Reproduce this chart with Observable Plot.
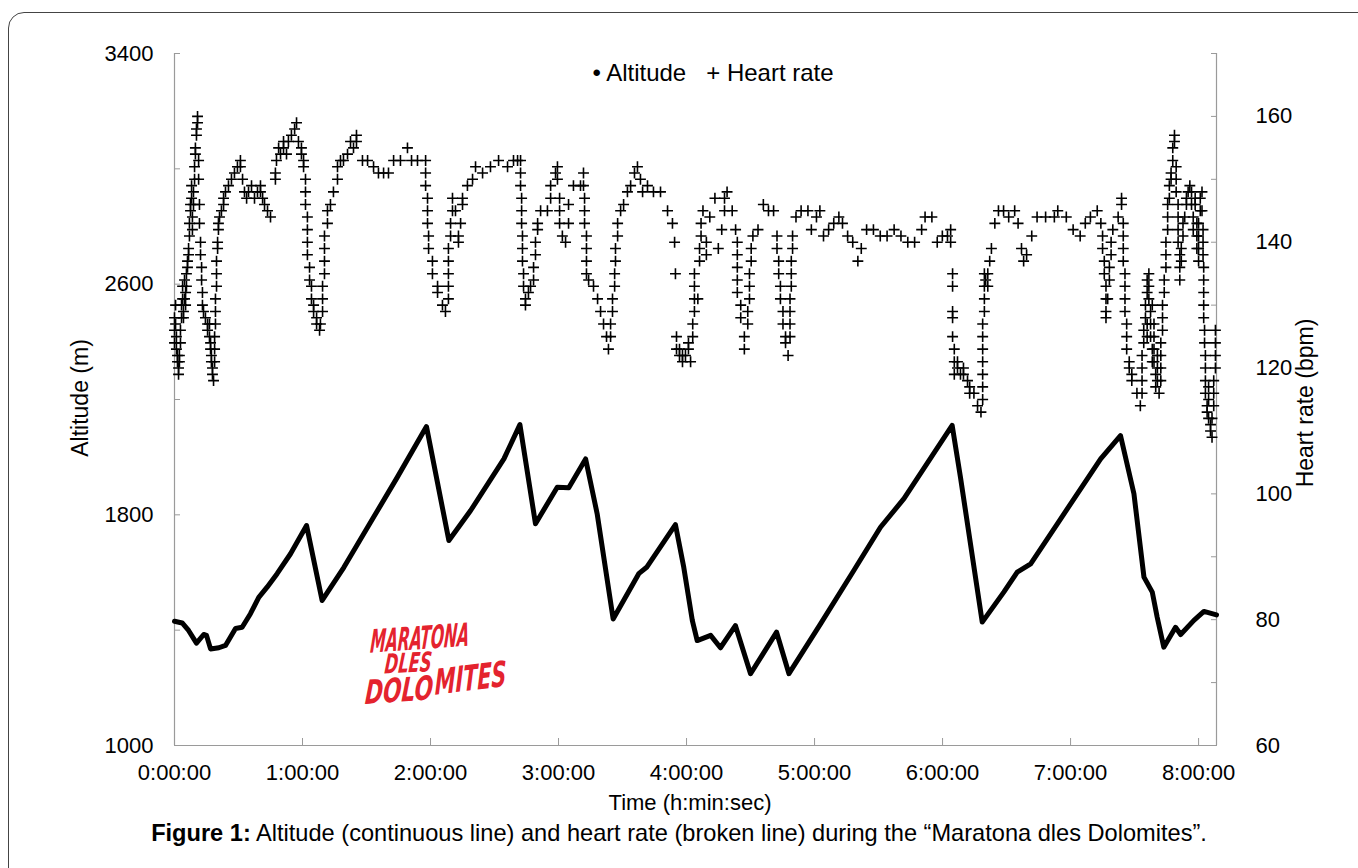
<!DOCTYPE html>
<html>
<head>
<meta charset="utf-8">
<script src="https://cdn.jsdelivr.net/npm/d3@7"></script>
<script src="https://cdn.jsdelivr.net/npm/@observablehq/plot@0.6"></script>
<style>
  html, body { margin: 0; padding: 0; background: #fff; }
  #wrap { position: relative; width: 1358px; height: 868px; overflow: hidden; font-family: "Liberation Sans", Arial, sans-serif; color: #000; }
  #frame { position: absolute; left: 8px; top: 12px; width: 1400px; height: 900px; border: 1px solid #444; border-radius: 16px; }
  #chart { position: absolute; left: 0; top: 0; }
  .lbl { position: absolute; white-space: pre; line-height: 1; }
</style>
</head>
<body>
<div id="wrap">
  <div id="frame"></div>
  <div id="chart"></div>
  <div class="lbl" id="legend" style="left:713px; top:61px; font-size:24px; transform:translateX(-50%);">• Altitude   + Heart rate</div>
  <div class="lbl" style="left:80px; top:398px; font-size:23px; transform:translate(-50%,-50%) rotate(-90deg);">Altitude (m)</div>
  <div class="lbl" style="left:1305px; top:403px; font-size:23px; transform:translate(-50%,-50%) rotate(-90deg);">Heart rate (bpm)</div>
  <div class="lbl" style="left:690px; top:792px; font-size:22px; transform:translateX(-50%);">Time (h:min:sec)</div>
  <div class="lbl" style="left:679px; top:822px; font-size:23.6px; transform:translateX(-50%);"><b>Figure 1:</b> Altitude (continuous line) and heart rate (broken line) during the “Maratona dles Dolomites”.</div>
  <svg style="position:absolute; left:357px; top:605px; overflow:visible;" width="180" height="110">
    <g fill="#e4232e" font-family="'DejaVu Sans Condensed','DejaVu Sans',sans-serif" font-weight="bold" font-style="italic">
      <text x="18" y="44" font-size="32" textLength="99" lengthAdjust="spacingAndGlyphs" transform="rotate(-4 65 33) skewX(-8)">MARATONA</text>
      <text x="36" y="67" font-size="27" textLength="47" lengthAdjust="spacingAndGlyphs" transform="rotate(-3 55 58) skewX(-8)">DLES</text>
      <text x="20" y="96" font-size="33" textLength="68" lengthAdjust="spacingAndGlyphs" transform="rotate(-4 50 83) skewX(-8)">DOLO</text>
      <text x="88" y="85" font-size="35" textLength="72" lengthAdjust="spacingAndGlyphs" transform="rotate(-7 115 73) skewX(-8)">MITES</text>
    </g>
  </svg>
</div>
<script>
// ---------- data ----------
// Altitude: time in minutes from start, altitude in metres
const altTime = [0,3.6,6.6,10.3,13.7,15.0,16.9,20.8,23.9,28.6,31.7,35.6,39.5,43.4,48.1,54.4,61.9,69.2,79.4,91.9,104.4,118.1,128.6,138.8,154.4,161.9,169.2,179.4,184.8,192.7,198.1,205.6,217.6,221.3,234.8,238.7,242.7,245.0,251.3,255.9,262.9,270.0,282.2,288.0,302.8,318.4,330.9,341.9,364.5,368.4,378.6,388.7,395.0,401.3,413.8,434.1,443.4,449.7,454.4,458.3,460.6,463.7,469.2,471.6,477.8,482.5,488.4];
const altValue = [1431,1425,1399,1355,1385,1382,1335,1339,1347,1406,1410,1457,1514,1549,1596,1665,1763,1503,1618,1774,1930,2106,1711,1815,1994,2113,1769,1896,1894,1994,1804,1439,1596,1618,1766,1618,1434,1364,1382,1339,1416,1249,1393,1249,1422,1607,1757,1856,2110,1930,1428,1532,1601,1630,1769,1994,2075,1873,1584,1532,1445,1341,1410,1385,1434,1465,1453];

// Heart rate: time in minutes, readings (bpm) visible at that time
const hrTime = [0,0.5,0.9,1.4,1.9,2.3,2.8,3.3,3.8,4.2,4.7,5.2,5.6,6.1,6.6,7.0,7.5,8.0,8.4,8.9,9.4,9.8,10.3,10.8,11.3,11.7,12.2,12.7,13.1,13.6,14.5,15.5,16.4,16.9,17.3,17.8,18.3,18.8,19.2,19.7,20.2,20.6,21.1,22.0,23.0,23.9,25.3,26.7,28.1,29.5,30.9,31.9,32.8,33.8,34.7,36.1,37.5,38.9,40.3,41.3,42.2,43.6,45.0,
47.3,47.8,48.8,49.7,51.1,52.5,53.4,54.8,56.3,57.2,58.1,59.5,60.5,61.4,62.3,63.3,64.2,65.2,66.6,68.0,68.4,
69.4,70.3,71.7,73.1,74.5,76.4,77.8,79.2,81.1,82.5,83.9,85.3,88.1,90.5,93.3,95.6,98.0,100.3,102.7,105.9,109.2,111.1,113.9,117.7,118.6,119.1,120.9,123.3,125.6,127.0,
128.4,129.4,130.3,131.7,133.1,134.1,135.0,137.3,139.7,141.1,144.4,148.1,151.9,156.1,158.9,160.8,162.2,162.7,163.1,163.6,164.5,165.9,166.9,168.3,169.2,170.2,171.6,174.8,176.3,178.6,179.5,180.5,181.8,183.3,184.7,187.0,190.3,191.7,192.2,193.1,194.1,196.4,198.3,199.7,201.1,202.5,203.4,204.4,205.3,206.3,206.7,207.7,209.1,210.5,212.3,213.8,215.6,217.0,218.4,219.4,221.7,224.5,227.8,231.1,233.4,234.4,234.8,235.3,236.7,238.1,239.5,240.9,241.9,
242.9,243.7,245.3,246.1,246.8,247.7,249.3,250.9,253.3,254.9,256.5,257.8,259.0,261.4,263.0,263.8,265.4,267.1,268.7,269.5,270.3,271.1,273.5,276.0,278.4,280.8,282.4,283.2,284.0,285.2,286.4,287.6,288.5,289.1,289.7,291.3,293.7,296.9,298.5,300.9,302.5,304.2,306.6,309.0,311.4,313.1,315.5,317.9,320.3,321.9,324.4,327.6,330.8,334.0,337.3,340.5,343.7,346.9,350.2,351.8,355.0,357.5,359.9,362.3,363.8,
364.7,365.5,367.0,368.4,369.8,371.7,372.7,374.7,376.4,378.0,378.8,379.6,380.2,381.2,382.1,382.9,384.5,386.2,388.6,391.0,393.8,395.4,397.0,398.0,399.4,401.8,404.3,408.3,412.4,414.0,418.0,421.2,424.5,426.9,429.3,432.5,434.2,435.0,435.8,436.6,437.4,438.2,439.0,439.8,442.3,443.9,444.7,445.5,446.3,447.5,448.7,451.1,452.7,453.5,454.3,455.1,455.9,456.7,457.5,458.3,459.1,459.9,460.7,461.5,462.3,463.1,463.9,464.7,465.5,466.3,467.1,467.9,468.7,469.5,470.4,471.2,471.9,472.7,473.5,474.3,475.1,475.9,476.7,477.5,478.4,479.2,480.0,480.8,481.6,482.1,482.4,482.8,483.2,484.0,484.7,485.6,486.3,487.1,487.9];
const hrBpm = [[128,126,124],[130,127],[125,123],[122,121],[120,119],[121,122],[124,126],[128,130],[131,133],[129,128],[131,134],[132,130],[133,135],[136,137],[138,139],[141,143],[145,146],[149,147],[144,142],[146,148],[150,152],[154,155],[157,158],[160,159],[153,150],[146,143],[140,138],[136,134],[132,130],[129],[128],[127,126],[127,125],[124,123],[122,121],[120,119],[118],[121,123,125],[127,129,131],[133,135,137],[139,140],[142,143],[144],[145],[146,147],[148],[149],[150],[151],[152],[153,152],[150],[148],[147],[148],[149],[147],[148],[149,148],[147],[146],[145],[144],
[151,150],[153],[155],[154],[156,155],[154],[156],[157],[158],[159],[156],[155,154],[153,152],[150,148,146],[144,142,140,138],[136,134],[133,131],[130,129],[128,127],[126],[127],
[129,131,133],[135,137,139,141],[143,145],[146],[148],[150,152],[153],[153],[154],[156],[155],[157,156],[153],[153],[152],[151],[151],[151],[153],[153],[155],[153],[153],[153,151,149],[147,145,143],[141,139],[137,135],[133,132],[130],[129],
[131,133,135,137,139],[141,143],[145,147],[145],[141,140],[143],[146,147],[149],[150],[152],[151],[152],[153],[152],[153],[153],[153,151,149],[147,145,143],[141,139,137],[135,133],[131,130],[132],[133],[134,136],[138,140],[142,143],[145],[145],[147,149],[151],[152,150],[147,145,143],[141],[140],[143,146],[149],[149],[151,149],[147,145,143],[141,139,137,135],[134],[133],[131],[129],[127],[125],[123],[125,127],[129,131],[133,135],[137,139],[141,143],[145],[146],[148],[149],[151],[152],[150],[148],[149],[148],[148],[145],[143],[140],[135],[125,123],[123,122],[122,121],[122],[124,123],[121],
[127,125],[135,133,131,129],[131],[137,139],[141,143],[145],[138,140],[144],[147],[139],[142],[145,147],[148],[145],[142],[140,138,136,134,132],[130,128],[125,123],[127,129],[131,133,135],[137,139],[141],[142],[146],[145],[145],[141,139],[137,135],[133,131],[129,127],[125,124],[122],[125,127,129,131],[133,135,137],[139,141],[144],[145],[145],[142],[144],[145],[141],[142],[143],[144],[143],[141],[140],[137],[139],[142],[142],[141],[141],[142],[141],[140],[140],[142],[144],[144],[140],[141],[141],[142,140],
[135,133,129,128,125],[123,121,119],[121,120],[119],[120,119],[118],[117,116],[116],[114],[113],[115,117,119,121,123,125,127],[129,131,133,135],[134],[133,135],[137],[139],[143],[145],[145],[144],[145],[143],[139],[137],[138],[141],[144],[144],[144],[145],[144],[142],[141],[143],[144],[145],[143],[141,139],[137,135],[133,131,129,128],[131],[134,136],[138,140],[142],[144],[146,147],[143,141,139,137],[135,133,131,129],[127,125,123],[121,120],[119,118],[116],[114],[116,118,120,122],[124,126],[128,130],[125,127,132,134],[135,133,131],[129,127,125],[123,121,130],[127,125,123,121],[119,117],[122,120,118],[116],[118,120,122,124],[126,128,130],[132,134],[136,138,140],[142,144,146],[147,149],[150,151],[153,155],[157,156],[152,150,148],[146,144,142,140],[138,136,134],[137,139],[141,143],[144],[146,147],[148],[149],[148,146],[144,142],[146,147],[143,141,139],[137,139,141,143],[145,147],[148,145],[142,140,138],[136,134,132,130,128],[126,124],[122,120,118,116],[114,113],[117,115,112],[111,110],[109,112],[114,116,118],[120,122,124,126]];

// Axes
const timeDomain = [0, 488.4];          // minutes
const altDomain = [1000, 3400];         // metres
const hrDomain = [60, 170];             // bpm (right axis)
const altTicks = [1000,1400,1800,2200,2600,3000,3400];
const altLabels = [1000,1800,2600,3400];
const hrTicks = [60,70,80,90,100,110,120,130,140,150,160,170];
const hrLabels = [60,80,100,120,140,160];
const hourTicks = [0,1,2,3,4,5,6,7,8];

// ---------- build ----------
const hrToAlt = h => altDomain[0] + (h - hrDomain[0]) * (altDomain[1] - altDomain[0]) / (hrDomain[1] - hrDomain[0]);
const altToHr = a => hrDomain[0] + (a - altDomain[0]) * (hrDomain[1] - hrDomain[0]) / (altDomain[1] - altDomain[0]);

const alt = altTime.map((t, i) => ({t, alt: altValue[i]}));
const hr = hrTime.flatMap((t, i) => hrBpm[i].map(v => ({t, hr: v})));

const axisGrey = "#9a9a9a";

const chart = Plot.plot({
  width: 1358,
  height: 810,
  marginTop: 53,
  marginBottom: 65,
  marginLeft: 174,
  marginRight: 142,
  style: {fontFamily: "'Liberation Sans', Arial, sans-serif", fontSize: "22px", background: "transparent", color: "#000", overflow: "visible"},
  x: {domain: timeDomain, axis: null},
  y: {domain: altDomain, axis: null},
  marks: [
    Plot.ruleX(timeDomain, {stroke: axisGrey, strokeWidth: 1.2}),
    Plot.ruleY([altDomain[0]], {stroke: axisGrey, strokeWidth: 1.2}),
    Plot.axisY(altTicks, {anchor: "left", label: null, tickSize: -6, tickPadding: 27, stroke: axisGrey, fill: "#000", fontSize: 22,
      tickFormat: d => altLabels.includes(d) ? String(d) : ""}),
    Plot.axisY(hrTicks.map(hrToAlt), {anchor: "right", label: null, tickSize: -6, tickPadding: 45, stroke: axisGrey, fill: "#000", fontSize: 22,
      tickFormat: a => { const h = Math.round(altToHr(a)); return hrLabels.includes(h) ? String(h) : ""; }}),
    Plot.axisX(hourTicks.map(h => h * 60), {anchor: "bottom", label: null, tickSize: -7, tickPadding: 26, stroke: axisGrey, fill: "#000", fontSize: 22,
      tickFormat: m => `${m / 60}:00:00`}),
    Plot.line(alt, {x: "t", y: "alt", stroke: "#000", strokeWidth: 5, strokeLinejoin: "round", strokeLinecap: "round"}),
    Plot.dot(hr, {x: "t", y: d => hrToAlt(d.hr), symbol: "plus", r: 3.6, stroke: "#000", strokeWidth: 1.6})
  ]
});
document.getElementById("chart").appendChild(chart);
</script>
</body>
</html>
